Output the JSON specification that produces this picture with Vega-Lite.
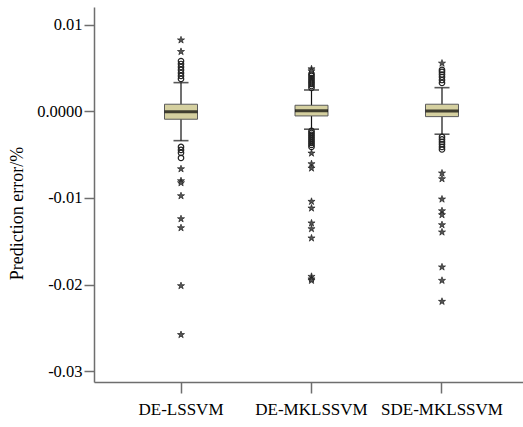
{
  "$schema": "https://vega.github.io/schema/vega-lite/v6.json",
  "autosize": "none",
  "width": 429,
  "height": 375,
  "padding": {"left": 94, "top": 7, "right": 0, "bottom": 45},
  "background": "white",
  "config": {
    "view": {"stroke": null},
    "axis": {
      "grid": false,
      "labelFont": "Liberation Serif",
      "titleFont": "Liberation Serif",
      "labelColor": "#000",
      "titleColor": "#000",
      "domainColor": "#6e6e6e",
      "domainWidth": 1.5,
      "tickColor": "#6e6e6e",
      "tickWidth": 1.5
    }
  },
  "datasets": {
    "stats": [
      {"group": "DE-LSSVM", "lo": -0.00339, "q1": -0.00092, "median": -0.00005, "q3": 0.00081, "hi": 0.0033},
      {"group": "DE-MKLSSVM", "lo": -0.00207, "q1": -0.00054, "median": 0.00007, "q3": 0.00069, "hi": 0.00245},
      {"group": "SDE-MKLSSVM", "lo": -0.00265, "q1": -0.00062, "median": 0.00003, "q3": 0.00081, "hi": 0.00272}
    ],
    "outliers": [
      {"group": "DE-LSSVM", "kind": "star", "value": 0.00821},
      {"group": "DE-LSSVM", "kind": "star", "value": 0.00687},
      {"group": "DE-LSSVM", "kind": "circle", "value": 0.00579},
      {"group": "DE-LSSVM", "kind": "circle", "value": 0.00545},
      {"group": "DE-LSSVM", "kind": "circle", "value": 0.0051},
      {"group": "DE-LSSVM", "kind": "circle", "value": 0.00476},
      {"group": "DE-LSSVM", "kind": "circle", "value": 0.00441},
      {"group": "DE-LSSVM", "kind": "circle", "value": 0.00407},
      {"group": "DE-LSSVM", "kind": "circle", "value": 0.00372},
      {"group": "DE-LSSVM", "kind": "circle", "value": -0.00411},
      {"group": "DE-LSSVM", "kind": "circle", "value": -0.00446},
      {"group": "DE-LSSVM", "kind": "circle", "value": -0.0048},
      {"group": "DE-LSSVM", "kind": "circle", "value": -0.00538},
      {"group": "DE-LSSVM", "kind": "star", "value": -0.00665},
      {"group": "DE-LSSVM", "kind": "star", "value": -0.00803},
      {"group": "DE-LSSVM", "kind": "star", "value": -0.00826},
      {"group": "DE-LSSVM", "kind": "star", "value": -0.00976},
      {"group": "DE-LSSVM", "kind": "star", "value": -0.01241},
      {"group": "DE-LSSVM", "kind": "star", "value": -0.01345},
      {"group": "DE-LSSVM", "kind": "star", "value": -0.02013},
      {"group": "DE-LSSVM", "kind": "star", "value": -0.02577},
      {"group": "DE-MKLSSVM", "kind": "star", "value": 0.00487},
      {"group": "DE-MKLSSVM", "kind": "star", "value": 0.00464},
      {"group": "DE-MKLSSVM", "kind": "circle", "value": 0.0043},
      {"group": "DE-MKLSSVM", "kind": "circle", "value": 0.00407},
      {"group": "DE-MKLSSVM", "kind": "circle", "value": 0.00383},
      {"group": "DE-MKLSSVM", "kind": "circle", "value": 0.0036},
      {"group": "DE-MKLSSVM", "kind": "circle", "value": 0.00337},
      {"group": "DE-MKLSSVM", "kind": "circle", "value": 0.00315},
      {"group": "DE-MKLSSVM", "kind": "circle", "value": 0.00291},
      {"group": "DE-MKLSSVM", "kind": "circle", "value": 0.00268},
      {"group": "DE-MKLSSVM", "kind": "circle", "value": -0.00227},
      {"group": "DE-MKLSSVM", "kind": "circle", "value": -0.0025},
      {"group": "DE-MKLSSVM", "kind": "circle", "value": -0.00273},
      {"group": "DE-MKLSSVM", "kind": "circle", "value": -0.00296},
      {"group": "DE-MKLSSVM", "kind": "circle", "value": -0.00319},
      {"group": "DE-MKLSSVM", "kind": "circle", "value": -0.00342},
      {"group": "DE-MKLSSVM", "kind": "circle", "value": -0.00365},
      {"group": "DE-MKLSSVM", "kind": "circle", "value": -0.00388},
      {"group": "DE-MKLSSVM", "kind": "circle", "value": -0.00411},
      {"group": "DE-MKLSSVM", "kind": "star", "value": -0.00484},
      {"group": "DE-MKLSSVM", "kind": "star", "value": -0.00607},
      {"group": "DE-MKLSSVM", "kind": "star", "value": -0.00657},
      {"group": "DE-MKLSSVM", "kind": "star", "value": -0.01041},
      {"group": "DE-MKLSSVM", "kind": "star", "value": -0.01118},
      {"group": "DE-MKLSSVM", "kind": "star", "value": -0.0129},
      {"group": "DE-MKLSSVM", "kind": "star", "value": -0.01356},
      {"group": "DE-MKLSSVM", "kind": "star", "value": -0.01463},
      {"group": "DE-MKLSSVM", "kind": "star", "value": -0.01906},
      {"group": "DE-MKLSSVM", "kind": "star", "value": -0.01935},
      {"group": "DE-MKLSSVM", "kind": "star", "value": -0.01952},
      {"group": "SDE-MKLSSVM", "kind": "star", "value": 0.00553},
      {"group": "SDE-MKLSSVM", "kind": "circle", "value": 0.00476},
      {"group": "SDE-MKLSSVM", "kind": "circle", "value": 0.00453},
      {"group": "SDE-MKLSSVM", "kind": "circle", "value": 0.00424},
      {"group": "SDE-MKLSSVM", "kind": "circle", "value": 0.00395},
      {"group": "SDE-MKLSSVM", "kind": "circle", "value": 0.0036},
      {"group": "SDE-MKLSSVM", "kind": "circle", "value": 0.00326},
      {"group": "SDE-MKLSSVM", "kind": "circle", "value": -0.00296},
      {"group": "SDE-MKLSSVM", "kind": "circle", "value": -0.00325},
      {"group": "SDE-MKLSSVM", "kind": "circle", "value": -0.00354},
      {"group": "SDE-MKLSSVM", "kind": "circle", "value": -0.00382},
      {"group": "SDE-MKLSSVM", "kind": "circle", "value": -0.00411},
      {"group": "SDE-MKLSSVM", "kind": "circle", "value": -0.0044},
      {"group": "SDE-MKLSSVM", "kind": "star", "value": -0.00714},
      {"group": "SDE-MKLSSVM", "kind": "star", "value": -0.0078},
      {"group": "SDE-MKLSSVM", "kind": "star", "value": -0.01014},
      {"group": "SDE-MKLSSVM", "kind": "star", "value": -0.01149},
      {"group": "SDE-MKLSSVM", "kind": "star", "value": -0.01195},
      {"group": "SDE-MKLSSVM", "kind": "star", "value": -0.0131},
      {"group": "SDE-MKLSSVM", "kind": "star", "value": -0.01394},
      {"group": "SDE-MKLSSVM", "kind": "star", "value": -0.01797},
      {"group": "SDE-MKLSSVM", "kind": "star", "value": -0.01952},
      {"group": "SDE-MKLSSVM", "kind": "star", "value": -0.02194}
    ]
  },
  "layer": [
    {
      "mark": {"type": "rule", "color": "#6e6e6e", "strokeWidth": 1.5},
      "encoding": {
        "y": {"datum": 0.01202, "type": "quantitative"}
      }
    },
    {
      "data": {"name": "stats"},
      "mark": {"type": "rule", "color": "#111", "strokeWidth": 1.2},
      "encoding": {
        "x": {
          "field": "group", "type": "nominal",
          "scale": {"type": "band", "domain": ["DE-LSSVM", "DE-MKLSSVM", "SDE-MKLSSVM"], "paddingInner": 0, "paddingOuter": 0.1437, "align": 0.58},
          "axis": {"title": null, "labelAngle": 0, "labelFontSize": 17, "tickSize": 11, "labelPadding": 8}
        },
        "y": {
          "field": "lo", "type": "quantitative",
          "scale": {"domain": [-0.03122, 0.01202], "nice": false, "zero": false},
          "axis": {
            "values": [-0.03, -0.02, -0.01, 0, 0.01],
            "labelExpr": "datum.value == 0 ? '0.0000' : (datum.value < 0 ? '-' + format(-datum.value, '.2f') : format(datum.value, '.2f'))",
            "labelFontSize": 16.5,
            "tickSize": 10,
            "labelPadding": 2,
            "title": "Prediction error/%",
            "titleFontSize": 18,
            "titleFontWeight": "normal",
            "titlePadding": 10,
            "titleY": 206
          }
        },
        "y2": {"field": "hi"}
      }
    },
    {
      "data": {"name": "stats"},
      "mark": {"type": "tick", "color": "#111", "size": 15, "thickness": 1.6},
      "encoding": {
        "x": {"field": "group", "type": "nominal"},
        "y": {"field": "lo", "type": "quantitative"}
      }
    },
    {
      "data": {"name": "stats"},
      "mark": {"type": "tick", "color": "#111", "size": 15, "thickness": 1.6},
      "encoding": {
        "x": {"field": "group", "type": "nominal"},
        "y": {"field": "hi", "type": "quantitative"}
      }
    },
    {
      "data": {"name": "stats"},
      "mark": {"type": "bar", "width": 33, "fill": "#d5d0a0", "stroke": "#5a5a5a", "strokeWidth": 1},
      "encoding": {
        "x": {"field": "group", "type": "nominal"},
        "y": {"field": "q1", "type": "quantitative"},
        "y2": {"field": "q3"}
      }
    },
    {
      "data": {"name": "stats"},
      "mark": {"type": "tick", "color": "#000", "size": 33, "thickness": 3},
      "encoding": {
        "x": {"field": "group", "type": "nominal"},
        "y": {"field": "median", "type": "quantitative"}
      }
    },
    {
      "data": {"name": "outliers"},
      "transform": [{"filter": "datum.kind == 'circle'"}],
      "mark": {"type": "point", "shape": "circle", "filled": false, "stroke": "#222", "strokeWidth": 1.2, "size": 30, "opacity": 1},
      "encoding": {
        "x": {"field": "group", "type": "nominal"},
        "y": {"field": "value", "type": "quantitative"}
      }
    },
    {
      "data": {"name": "outliers"},
      "transform": [{"filter": "datum.kind == 'star'"}],
      "mark": {"type": "point", "shape": "M0,-1L0.2245,-0.309L0.951,-0.309L0.363,0.118L0.588,0.809L0,0.382L-0.588,0.809L-0.363,0.118L-0.951,-0.309L-0.2245,-0.309Z", "filled": true, "fill": "#555", "stroke": "#111", "strokeWidth": 0.6, "size": 56, "opacity": 1},
      "encoding": {
        "x": {"field": "group", "type": "nominal"},
        "y": {"field": "value", "type": "quantitative"}
      }
    }
  ]
}
